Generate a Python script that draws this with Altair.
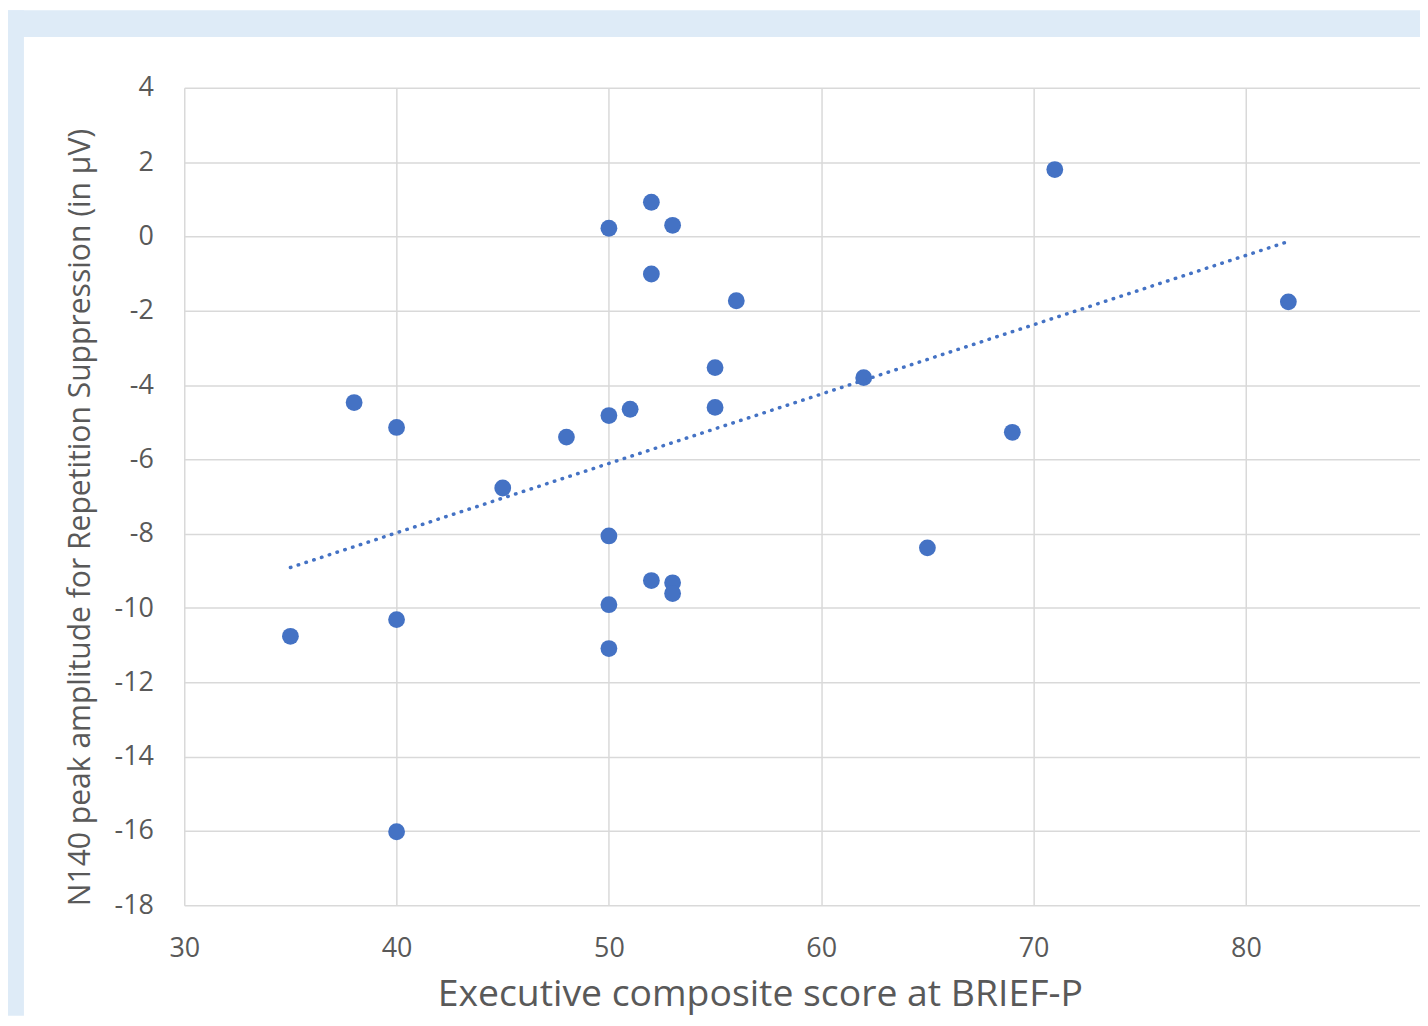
import altair as alt
import pandas as pd

# Executive composite score at BRIEF-P (x) and N140 amplitude (y)
score = [35, 38, 40, 40, 40, 45, 48, 50, 50, 50, 50, 50, 51, 52, 52, 52,
         53, 53, 53, 55, 55, 56, 62, 65, 69, 71, 82]
amplitude = [-10.76, -4.47, -5.14, -10.31, -16.02, -6.77, -5.40,
             0.22, -4.82, -8.06, -9.91, -11.09, -4.65,
             0.92, -1.01, -9.26, 0.30, -9.32, -9.61,
             -3.53, -4.60, -1.73, -3.80, -8.38, -5.27, 1.80, -1.76]

x_ticks = [30, 40, 50, 60, 70, 80]
y_ticks = list(range(-18, 5, 2))

x_title = "Executive composite score at BRIEF-P"
y_title = "N140 peak amplitude for Repetition Suppression (in µV)"

df = pd.DataFrame({"score": score, "amplitude": amplitude})

W, H = 1241, 821
PAD_B = 111
BLUE = "#4472c4"
BAND = "#deebf7"
GRID = "#d9d9d9"
TXT = "#595959"
FONT = "Open Sans"

x_enc = alt.X(
    "score:Q",
    scale=alt.Scale(domain=[30, 88.2], nice=False, zero=False),
    axis=alt.Axis(
        values=x_ticks, grid=True, gridColor=GRID, gridWidth=1.5,
        domain=False, ticks=False, tickSize=0, labelFlush=False,
        labelPadding=51, labelBaseline="alphabetic",
        labelFont=FONT, labelFontSize=27, labelColor=TXT,
        title=x_title, titleFont=FONT, titleFontSize=37.5,
        titleFontWeight="normal", titleColor=TXT,
        titleX=578, titleY=101, titleAlign="center",
        titleBaseline="alphabetic", titleAnchor="start",
    ),
)
y_enc = alt.Y(
    "amplitude:Q",
    scale=alt.Scale(domain=[-18, 4], nice=False, zero=False),
    axis=alt.Axis(
        values=y_ticks, grid=True, gridColor=GRID, gridWidth=1.5,
        domain=False, ticks=False, tickSize=0, labelFlush=False,
        labelPadding=31, labelBaseline="middle",
        labelExpr="'' + datum.value",
        labelFont=FONT, labelFontSize=27, labelColor=TXT,
        title=y_title, titleFont=FONT, titleFontSize=30.2,
        titleFontWeight="normal", titleColor=TXT,
        titleX=-95, titleY=431, titleAngle=270, titleAlign="center",
        titleBaseline="alphabetic", titleAnchor="start",
    ),
)

one = pd.DataFrame({"k": [0]})
left_band = alt.Chart(one).mark_rect(color=BAND).encode(
    x=alt.value(-177), x2=alt.value(-161), y=alt.value(-78), y2=alt.value(H + PAD_B)
)
top_band = alt.Chart(one).mark_rect(color=BAND).encode(
    x=alt.value(-177), x2=alt.value(W), y=alt.value(-78), y2=alt.value(-51)
)

points = alt.Chart(df).mark_circle(color=BLUE, opacity=1, size=285).encode(
    x=x_enc, y=y_enc
)

trend = (
    alt.Chart(df)
    .transform_regression("score", "amplitude")
    .mark_line(color=BLUE, strokeWidth=3.5, strokeDash=[0.5, 7.7], strokeCap="round")
    .encode(x="score:Q", y="amplitude:Q")
)

chart = (
    alt.layer(left_band, top_band, points, trend)
    .properties(
        width=W, height=H,
        padding={"left": 177, "top": 78, "right": 0, "bottom": PAD_B},
        autosize=alt.AutoSizeParams(type="none"),
        background="white",
    )
    .configure_view(stroke=None)
)

chart.save("out.html", embed_options={"renderer": "svg", "actions": False})
